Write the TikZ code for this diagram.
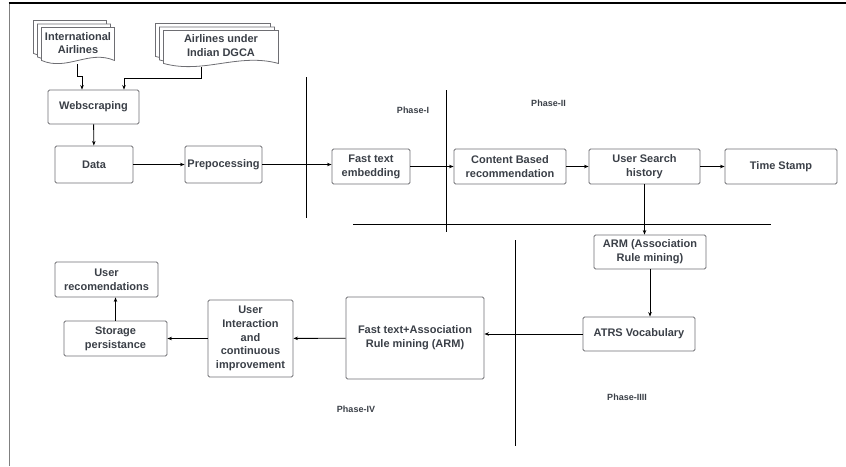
\documentclass[tikz,border=0pt]{standalone}
\usepackage{fontspec}
\setmainfont{Liberation Sans}
\usetikzlibrary{calc,positioning,arrows.meta}
\definecolor{inkgray}{RGB}{58,63,71}
\definecolor{boxgray}{RGB}{110,110,115}
\tikzset{
node distance=2cm, % not much used, boxes sit at coordinates
>={Stealth[length=4.5pt,width=3.5pt]},
box/.style={draw=boxgray, line width=0.9pt, rounded corners=1.5pt, align=center,
  text=inkgray, font=\bfseries\fontsize{11}{13.8}\selectfont, inner sep=1pt},
docline/.style={draw=boxgray, line width=0.8pt},
phase/.style={text=inkgray, font=\bfseries\fontsize{9}{11}\selectfont},
divider/.style={line width=0.85pt},
}
% stack of three document sheets behind a node
\newcommand{\docstack}[1]{%
  \foreach \k in {2,1,0}{
    \draw[docline,fill=white]
      ($(#1.south west)+(-4*\k,-3.5*\k)$) -- ($(#1.north west)+(-4*\k,-3.5*\k)$)
      -- ($(#1.north east)+(-4*\k,-3.5*\k)$) -- ($(#1.south east)+(-4*\k,-3.5*\k)$)
      .. controls ($(#1.south east)!0.35!(#1.south west)+(-4*\k,-3.5*\k-11)$)
      and ($(#1.south east)!0.65!(#1.south west)+(-4*\k,-3.5*\k+11)$)
      .. ($(#1.south west)+(-4*\k,-3.5*\k)$) -- cycle;
  }}

\begin{document}
\begin{tikzpicture}[x=1pt,y=-1pt]
   \useasboundingbox (0,0) rectangle (846,466);
   % frame
   \draw[line width=1.8pt, draw=gray] (9.5,466) -- (9.5,3);
   \draw[line width=1.3pt] (8.6,3) -- (846,3);

   % source documents
   \node[box, draw=none, minimum width=72, minimum height=32] (intl) at (78,44) {};
   \node[box, draw=none, minimum width=114, minimum height=32] (dgca) at (221,47) {};
   \docstack{intl}
   \docstack{dgca}
   \node[box, draw=none] at (78,43) {International\\Airlines};
   \node[box, draw=none] at (221,45.5) {Airlines under\\Indian DGCA};

   % phase I
   \node[box, minimum width=91, minimum height=34] (web) at (93.5,107) {Webscraping};
   \node[box, minimum width=78, minimum height=37] (data) at (94,164.5) {Data};
   \node[box, minimum width=77, minimum height=37] (prep) at (223.5,164.5) {Prepocessing};
   \node[box, minimum width=78, minimum height=35] (fte) at (371,166.5) {Fast text\\embedding};

   % phase II
   \node[box, minimum width=112, minimum height=35] (cbr) at (510,166.5) {Content Based\\recommendation};
   \node[box, minimum width=111, minimum height=35] (ush) at (644.5,166.5) {User Search\\history};
   \node[box, minimum width=112, minimum height=35] (ts) at (781,166.5) {Time Stamp};

   % phase III
   \node[box, minimum width=112, minimum height=34] (arm) at (650,252) {ARM (Association\\Rule mining)};
   \node[box, minimum width=112, minimum height=34] (atrs) at (639,334) {ATRS Vocabulary};

   % phase IV
   \node[box, minimum width=138, minimum height=82] (ftarm) at (415,338) {Fast text+Association\\Rule mining (ARM)};
   \node[box, minimum width=85, minimum height=77] (ui) at (250.5,338.5) {User\\Interaction\\and\\continuous\\improvement};
   \node[box, minimum width=103, minimum height=35] (sp) at (115.5,338.5) {Storage\\persistance};
   \node[box, minimum width=103, minimum height=35] (ur) at (106.5,279.5) {User\\recomendations};

   % phase labels
   \node[phase] (p1) at (413,110) {Phase-I};
   \node[phase] (p2) at (548.5,103) {Phase-II};
   \node[phase] (p3) at (627,397) {Phase-IIII};
   \node[phase] (p4) at (356,409) {Phase-IV};

   % dividers
   \draw[divider] (306,77) -- (306,218);
   \draw[divider] (446,90) -- (446,232);
   \draw[divider] (353,224) -- (771,224);
   \draw[divider] (515,240) -- (515,446);

   % connectors
   \draw[->, line width=0.8pt] ($(intl.south)+(-1,4)$) -- ++(0,12) -| ([xshift=-11.5pt]web.north);
   \draw[->, line width=0.8pt] ($(dgca.south)+(-20,4)$) |- ([xshift=30.5pt,yshift=11pt]web.north) -- ([xshift=30.5pt]web.north);
   \path[->, line width=0.9pt]
    (web) edge (data)
    (data) edge (prep)
    (prep.east) edge (prep.east -| fte.west)
    (fte) edge (cbr)
    (cbr) edge (ush)
    (ush) edge (ts)
    (ush.south) edge (ush.south |- arm.north)
    (arm.south) edge (arm.south |- atrs.north)
    (atrs.west) edge (atrs.west -| ftarm.east)
    (ftarm) edge (ui)
    (ui) edge (sp)
    (sp.north) edge (sp.north |- ur.south);
\end{tikzpicture}
\end{document}
